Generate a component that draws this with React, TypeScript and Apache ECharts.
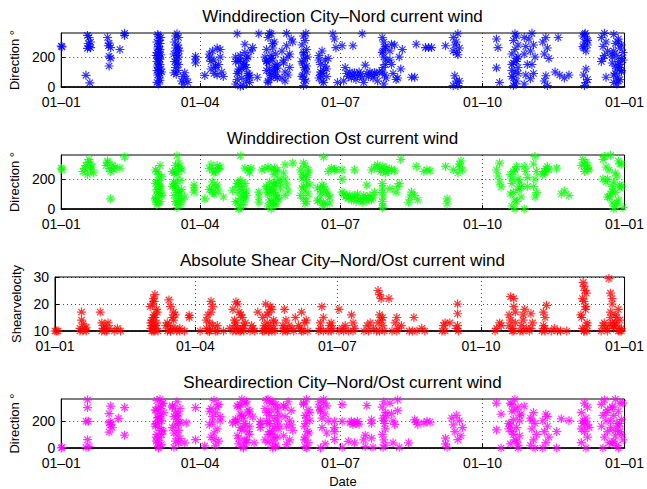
import React, { useEffect, useRef } from 'react';
import * as echarts from 'echarts';

const xTickDays = [0, 90, 181, 273, 365];
const xTickLabels = ['01–01', '01–04', '01–07', '01–10', '01–01'];
const dirTicks = [0, 200];
const shearTicks = [10, 20, 30];
const titles = [
  'Winddirection City–Nord current wind',
  'Winddirection Ost current wind',
  'Absolute Shear City–Nord/Ost current wind',
  'Sheardirection City–Nord/Ost current wind',
];
const yNames = ['Direction °', 'Direction °', 'Shearvelocity', 'Direction °'];
const colors = ['#0000ff', '#00ff00', '#ff0000', '#ff00ff'];

// [day of year, value]
const cityNordDir: number[][] = [
  [0,272],[0.5,268],
  [16,78],[18.5,28],[17,344],[18,330],[17.5,290],[18,270],[19,262],[17,258],[19,300],
  [30,330],[31,292],[30.5,275],[32,262],[31,205],[32,193],[31,140],
  [38,250],[41,358],[41,344],
  [63,20],[62,30],[64,45],[63.5,60],[62.5,80],[64,90],[63,100],[62,110],[64.5,120],[63,130],[62.5,140],[64,150],[63,160],[62,170],[64,185],[63.5,190],[62.5,200],[63,210],[64.5,215],[62,230],[63.5,240],[64,250],[62.5,260],[63,270],[64,290],[62,300],[63.5,310],[64.5,330],[63,340],[62.5,350],[65,100],[61.5,210],
  [75,355],[74,340],[76,330],[73.5,300],[75.5,280],[74,260],[76.5,240],[73,220],[75,210],[76,200],[74.5,185],[73.5,170],[75,160],[76,150],[74,130],[75.5,110],[73,95],[74.5,85],[76,260],[75,240],
  [78,40],[79,70],[80,95],[81,55],[79,20],[82,30],
  [87,160],[87,185],[87,205],[93,77],
  [98,240],[101,260],[96,220],[103,200],[99,180],[97,170],[102,150],[100,130],[97,120],[104,100],[99,90],[101,80],[103,250],[96,195],[100,140],[105,70],
  [114,90],[117,60],[113,20],[119,150],[115,120],[121,200],[118,10],[114,355],[116,180],[120,40],[122,60],[115,100],[118,140],[113,170],[120,190],[116,210],[123,240],[119,285],[117,120],[121,90],[114,50],[122,30],[116,5],[118,160],[113,200],[120,130],[122,80],[115,170],[119,230],[121,75],
  [124,263],[127,65],[128,355],
  [136,80],[133,110],[139,140],[134,160],[137,180],[132,200],[140,150],[135,120],[138,100],[136,190],[139,220],[133,250],[137,290],[134,330],[136,355],[135,358],[138,300],[140,60],[134,40],[139,70],[133,175],[136,210],[138,130],[135,90],[137,260],[140,125],[133,170],[136,60],[139,100],[134,30],
  [146,275],[143,240],[147,200],[144,160],[148,130],[145,100],[147,80],[143,60],[145,40],[146,358],[144,180],[148,220],
  [149,320],[150,300],
  [157,10],[158.5,40],[156,70],[159,100],[157.5,130],[156.5,160],[158,190],[157,220],[159,250],[156,280],[158,310],[157,340],[158.5,358],[156,170],[159.5,200],[157,230],[158,120],[156.5,80],[159,140],[157.5,50],
  [169,240],[167,210],[171,180],[168,150],[172,120],[169,90],[167,60],[170,30],[171,140],[168,100],[172,70],[169,40],[167,180],[170,110],[173,190],[168,80],
  [176,355],[177,320],[178,262],[179,30],
  [182,275],[189,275],[195,355],
  [183,40],[184,130],[185,90],[186,70],[187,100],[188,60],[189,80],[190,95],[191,50],[192,75],[193,100],[194,85],[195,60],[196,30],[197,146],[198,90],[199,70],[200,100],[201,80],[202,60],[203,95],[204,85],[205,40],[206,100],
  [209,20],[210.5,60],[208,100],[210,150],[209,200],[208.5,240],[210,270],[209,300],[208,330],[210.5,180],[208.5,130],[209.5,80],[208,230],[210,260],
  [216,280],[213,240],[219,200],[214,150],[220,120],[215,90],[218,60],[214,285],[221,250],[217,50],[213,180],
  [227,65],[229,65],[230,285],
  [236,263],[238,263],[240,263],[249,275],
  [257,215],[254,240],[258,260],[255,280],[256,300],[254,330],[257,355],[256,230],[255,75],[258,40],[254,10],[257,10],[256,40],
  [282,320],[283,263],[282,128],[284,30],
  [293,10],[295,40],[292,70],[294,100],[296,130],[293,160],[295,190],[292,220],[294,250],[296,280],[293,310],[295,340],[294,355],[292,150],[296,200],[293,60],[294,20],[295,170],[292,110],[296,90],
  [300,330],[301,270],[300,220],[302,150],[301,80],[300,20],
  [305,358],[303,320],[306,280],[304,240],[307,200],[305,150],[304,55],[306,90],
  [314,330],[312,300],[315,260],[313,220],[316,190],[314,75],[313,40],[315,10],
  [322,330],[320,100],[323,80],[326,60],[329,80],
  [339.5,358],[338,340],[340.5,320],[339,300],[341,280],[338.5,260],[340,240],[339,350],[341,310],[338,270],[340,120],[338.5,80],[341,50],[339,10],[340,30],
  [352,358],[350,330],[353,300],[351,270],[354,240],[352,210],[350,170],[353,65],[351,190],
  [360,20],[362,50],[358,80],[363,110],[359,140],[361,170],[357,200],[364,230],[362,260],[359,290],[361,320],[358,350],[363,100],[360,60],[362,130],[357,160],[364,180],[360,210],[358,240],[363,280],[361,40],[359,90],[362,150],[360,120],[358,30],[363,190],[357,220],[361,300],
];

const ostDir: number[][] = [
  [0,272],[0.5,262],
  [14,250],[15,270],[16,290],[17,310],[18,330],[19,260],[20,280],[21,240],[17,230],[19,300],
  [29,290],[30,310],[31,270],[32,250],[33,290],[34,260],[35,280],[30,320],[32,68],
  [38,272],[41,347],
  [63,230],[61,260],[64,290],[62,250],[65,215],[63,190],[61,170],[64,150],[62,130],[63,110],[65,90],[61,70],[64,50],[62,30],[63,160],[61.5,80],[64,140],[62,120],[63,40],[62,180],[65,100],[61,60],
  [75,230],[72,250],[77,270],[74,290],[78,260],[73,240],[76,280],[74,250],[75,355],[76,306],[77,190],[74,170],[72,150],[78,130],[75,110],[73,90],[76,70],[74,50],[77,30],[75,10],[73,160],[78,60],[74,140],[76,120],[77,100],[75,40],[73,180],
  [80,80],[86,113],[86,140],[86,160],[93,68],
  [99,240],[96,270],[101,290],[98,260],[103,280],[97,295],[100,250],[102,270],[98,180],[101,160],[97,140],[102,120],[99,100],[96,130],[100,150],[98,110],
  [105,80],[111,125],
  [116,190],[119,170],[114,150],[117,130],[115,110],[120,90],[116,70],[113,50],[118,30],[116,10],[115,0],[114,170],[117,150],[120,120],[118,80],[115,180],[116,355],[119,60],[114,40],[118,100],
  [119,272],[121,260],[122,240],[123,272],
  [128,113],[128,80],[128,45],
  [130,260],[132,270],[134,280],[136,265],[138,275],[139,255],
  [135,180],[138,160],[133,140],[136,120],[134,100],[139,80],[135,60],[137,40],[134,20],[136,0],[138,170],[133,150],[137,130],[134,110],[139,90],[136,50],[138,30],[135,140],
  [140,260],[138,230],[141,200],[139,170],[142,140],[138,110],[140,80],[141,60],[139,35],[142,180],
  [145,295],[144,240],[145,200],[146,160],[147,120],[145,90],[150,306],[157,306],
  [158,285],[155,260],[160,240],[157,220],[156,200],[159,180],[161,160],[156,140],[158,120],[160,100],[155,90],[157,70],[159,50],[158,35],[156,230],[160,260],[157,150],[159,210],
  [169,160],[166,140],[172,120],[168,100],[174,80],[167,60],[170,45],[171,30],[169,25],[173,90],[166,55],[168,130],[171,110],[174,40],[170,150],
  [170,347],[173,250],[175,272],[177,260],[178,265],
  [182,261],[182,197],[182,113],[190,261],
  [183,100],[184,80],[185,90],[186,70],[187,95],[188,60],[189,75],[190,85],[191,50],[192,100],[193,70],[194,60],[195,45],[196,90],[197,80],[198,55],[199,70],[200,90],[201,60],[202,75],[203,110],
  [198,159],
  [201,260],[203,280],[205,295],[206,270],[207,250],[208,285],[209,260],[210,240],[211,275],[212,250],[214,265],[216,255],
  [208,170],[208,140],[208,110],[208.5,80],[208,50],[208.5,20],[208,10],
  [213,136],[217,113],[218,150],[219,170],[220,330],
  [225,45],[226,80],[227,113],[229,90],[231,60],
  [230,284],[235,250],[237,261],[239,255],[249,284],[250,68],[250,35],[254,261],
  [257,240],[258,280],[259,320],[260,260],[258,300],
  [282,260],[283,220],[284,180],[285,147],[284,306],
  [294,260],[291,230],[296,200],[292,170],[297,140],[293,110],[298,80],[295,50],[292,20],[294,0],[296,130],[291,100],[297,180],[293,250],[295,283],[292,200],[298,150],[294,60],
  [300,0],[300,283],[301,250],[302,210],[302,150],
  [307,350],[306,300],[308,250],[307,200],[306,150],[308,110],[307,80],
  [312,230],[313,250],[314,270],[315,283],[316,260],[313,240],
  [321,272],[324,100],[326,120],[329,90],
  [339,250],[341,270],[337,290],[340,310],[338,330],[341,280],[339,300],[342,260],
  [356,358],[361,320],[353,280],[359,240],[351,200],[362,160],[357,120],[354,80],[360,40],[358,0],[352,350],[363,300],[355,260],[360,220],[358,180],[362,140],[356,100],[361,60],[359,20],[353,180],[357,150],[355,80],[362,300],[351,330],[363,150],[354,200],[357,40],[359,110],[364,10],
];

const shearAbs: number[][] = [
  [0,10],[1,10],[2,10],
  [16,11],[17,17],[18,12.6],[19,10.8],[20,11.4],[17,14],[18,10],[16,10],[20,10],
  [29,17],[30,13],[31,11],[32,12],[33,10],[34,13],[35,11],[30,10],[32,10],
  [38,10],[40,11],[42,10],
  [63,10],[64.5,12],[62,14],[63.5,16],[65,18],[62.5,20],[63,22],[64,23.5],[61.5,11],[65,13],[64,15],[61,19],[62,10],[65.5,17],[63.5,21],[62,12],[64.5,11],[61.5,13],[63,15],[66,10],[64,10],
  [74,10],[71,12],[76,14],[73,21.5],[77,16],[72,13],[75,11],[78,10],[74,19],[76,17],[73,12],[72,10],[75,15],[77,11],[74,10],
  [80,10],[80,11],[83,10],[86,15.8],[86,15],[93,10],
  [99,10],[101,12],[97,14],[100,21],[98,16],[100,17],[97,11],[99,13],[98,10],[101,19],[99,10],[103,10],
  [104,10],[104,12],[108,10],[112,11],
  [118,10],[121,12],[115,14],[119,16],[116,20.8],[122,13],[117,11],[114,18],[120,15],[118,17],[121,10],[115,12],[117,20],[120,11],[116,13],[114,10],[119,10],[116,10],
  [125,10],[126,12],[127,11],[130,17],[128,10],
  [137,10],[134,12],[140,14],[136,16],[139,18],[135,20],[138,19],[133,15],[141,13],[137,17],[135,11],[134,10],[139,10],[136,13],[140,11],[138,12],[133,10],[137,10],[141,10],
  [146,10],[147,18],[148,14],[146,12],[147,11],[148,10],
  [149,10],[150,12],[152,11],[154,15],[153,10],
  [159,10],[156,12],[161,14],[158,17],[157,11],[160,13],[162,10],[158,10],
  [169,10],[170,13],[171,19],[172,15],[170,11],[172,10],
  [175,10],[176,12],[177,13],[178,11],[177,10],
  [182,18],[182,10],[184,11],[186,12],[185,10],
  [190,16],[188,10],[191,13],[192,11],[191,10],
  [198,10],[200,12],[202,13],[204,11],[206,10],[201,10],
  [207,25],[208,23.5],[209,22],[208,16],[209,14],[210,12],[211,10],[207,13],[210,15],[208,10],
  [214,22],
  [216,10],[218,13],[219,15],[220,11],[222,12],[219,10],
  [227,10],[229,10],[230,15],[232,10],[235,11],[237,10],
  [248,10],[249,12],[250,13],[253,13],[250,10],
  [258,20],[258,16.4],[258,12],[258.5,10],[257,11],
  [282,10],[283,11],[285,13],[286,12],
  [293,10],[295,13],[291,16],[294,19],[292,22.7],[294,22],[291,12],[293,11],[292,14],[295,17],[294,10],
  [298,10],[299,12],[300,14],[301,18],[302,11],[300,16],[300,10],
  [305,16.4],[305,11],[306,13],[304,10],
  [312,10],[313,12],[314,15],[315,19.5],[313,17],[314,11],[314,10],
  [318,10],[320,11],[322,10],[324,10],[328,10],
  [339,10],[341,13],[337,16],[340,19],[338,22],[339.5,25],[338.5,28],[341,12],[337.5,15],[340,18],[339,21],[338,11],[340.5,24],[341,10],[339,26.5],[339,10],
  [350,10],[351,12],[352,13],[353,11],[354,10],[355,12],
  [355,29.4],[356,24],[357,20],[356,17],[357,13],[358,11],[356,15],[357,22],
  [361,10],[358,12],[362,14],[359,16],[361,18],[360,15],[363,11],[359,13],[362,10],[360,12],[363,10],
];

const shearDir: number[][] = [
  [0,0],[0.5,5],
  [17,353],[17,297],[16,196],[17.5,196],[17,61],[16,5],[18,10],
  [32,308],[31,252],[31,184],[32,170],[33,150],[31,117],[32,190],
  [37,218],[41,297],[41,94],
  [63,0],[65,25],[61.5,50],[64,75],[62,100],[66,125],[63.5,150],[61,175],[65,200],[62.5,225],[64.5,250],[61.5,275],[63,300],[65.5,325],[62,350],[64,358],[66,330],[61,280],[63.5,230],[62,180],[65,130],[61.5,80],[64,200],[66.5,260],[62.5,40],[65,100],[63,10],[61,160],[64.5,290],[62.5,220],
  [75,340],[72,310],[77,290],[74,270],[76,250],[73,230],[75,210],[77,190],[74,170],[72,150],[76,130],[73,110],[75,90],[77,70],[74,50],[76,38],[73,5],[75,240],[72,300],[76,180],
  [81,184],[80,38],[87,297],[87,61],[93,15],
  [99,350],[102,320],[97,290],[100,260],[98,230],[103,200],[96,170],[101,140],[99,110],[97,80],[102,50],[100,15],[98,190],[101,300],[96,270],[103,230],[99,61],
  [111,184],
  [118,0],[115,30],[120,60],[114,90],[121,120],[116,150],[119,180],[113,210],[117,240],[122,270],[115,300],[119,330],[117,358],[120,340],[114,310],[121,280],[116,250],[118,220],[113,190],[119,160],[117,130],[122,100],[115,70],[120,40],[118,10],[114,200],[121,250],[116,320],[119,60],[122,160],
  [124,229],[125,38],[129,150],[129,173],[129,196],
  [137,0],[134,40],[140,80],[135,120],[138,160],[133,200],[141,240],[136,280],[139,320],[134,358],[137,340],[140,300],[133,260],[138,220],[135,180],[141,140],[136,100],[132,60],[139,20],[134,180],[137,130],[140,200],[136,330],[133,350],[141,170],[138,80],[135,240],[139,10],[132,290],[137,50],[134,100],[140,270],
  [147,340],[144,310],[149,275],[145,230],[148,200],[146,160],[150,130],[144,90],[148,60],[146,27],[149,170],[145,300],
  [159,358],[157,320],[160,280],[158,240],[161,200],[157.5,160],[159.5,120],[158,80],[160,40],[159,0],[157,330],[161,260],[158.5,180],[160.5,110],[157.5,60],[159,220],[158,10],
  [170,358],[167,340],[172,310],[168,280],[171,250],[169,220],[173,200],[167,300],[170,330],[168,270],[172,110],[169,150],[171,30],[168,0],
  [177,196],[177,150],[177,61],[177,120],
  [182,319],[182,196],[182,5],[186,49],
  [187,185],[188,196],[189,173],[190,190],[191,180],[192,196],[193,175],[190,38],
  [197,94],[196,60],[197,10],[198,312],
  [201,207],[201,180],[201,72],[202,5],
  [209,340],[208,300],[210,260],[208.5,220],[209.5,180],[210,140],[208,100],[209,60],[210,20],[208.5,5],[209,200],[210.5,240],
  [213,330],[214,252],[215,200],[216,173],[215,38],[218,353],[218,274],[219,5],
  [225,38],[229,207],[230,190],[231,173],
  [235,184],[237,196],[239,190],
  [249,72],[249,30],[250,5],
  [256,240],[253,220],[258,200],[254,170],[260,150],[255,120],[259,90],[257,61],
  [282,330],[282,133],[285,249],[285,0],
  [294,358],[291,330],[296,300],[292,270],[297,240],[293,210],[290,180],[295,150],[292,120],[297,90],[294,60],[291,30],[296,0],[293,100],[290,140],[298,250],[292,320],[295,50],[297,200],[291,170],[294,280],[296,20],
  [300,307],
  [306,260],[304,220],[307,180],[305,140],[308,100],[306,60],[304,20],[307,0],[305,200],
  [314,250],[312,200],[315,160],[313,120],[316,80],[314,40],[312,0],[315,230],
  [321,0],[321,121],[324,214],[329,202],
  [339,330],[341,300],[337,260],[340,220],[338,180],[342,150],[339,120],[341,80],[337,40],[340,0],[338,200],[341,170],[339,190],[337,140],
  [352,353],[350,320],[354,280],[351,240],[353,200],[350,160],[354,120],[352,80],[355,40],[351,0],[353,260],
  [359,358],[362,330],[357,300],[361,270],[358,240],[363,210],[360,180],[356,150],[362,120],[359,90],[364,60],[357,30],[361,0],[363,100],[358,50],[360,20],[356,200],[362,180],[359,130],[357,300],[364,330],[361,160],
];

const seriesData = [cityNordDir, ostDir, shearAbs, shearDir];

const ASTERISK =
  'path://M-1.3,-10L1.3,-10L1.3,10L-1.3,10Z' +
  'M-10,-1.3L10,-1.3L10,1.3L-10,1.3Z' +
  'M-7.99,-6.15L-6.15,-7.99L7.99,6.15L6.15,7.99Z' +
  'M-7.99,6.15L6.15,-7.99L7.99,-6.15L-6.15,7.99Z';

const FONT = '"Liberation Sans", Arial, Helvetica, sans-serif';
const GRID_LEFT = 55;
const GRID_RIGHT = 17;
const GRID_TOP0 = 33;
const GRID_STEP = 122;
const GRID_H = 54;

export default function App() {
  const ref = useRef<HTMLDivElement>(null);
  useEffect(() => {
    if (!ref.current) return;
    const chart = echarts.init(ref.current, undefined, { renderer: 'svg' });
    const grids: any[] = [];
    const xAxes: any[] = [];
    const yAxes: any[] = [];
    const series: any[] = [];
    const graphics: any[] = [];
    for (let i = 0; i < 4; i++) {
      const top = GRID_TOP0 + GRID_STEP * i;
      grids.push({
        left: GRID_LEFT, right: GRID_RIGHT, top, height: GRID_H,
        show: true, borderColor: '#000', borderWidth: 1, containLabel: false,
      });
      xAxes.push({
        gridIndex: i, type: 'value', min: 0, max: 365,
        axisLine: { show: true, onZero: false, lineStyle: { color: '#000', width: 1.5 } },
        axisTick: { show: true, inside: true, length: 4, customValues: xTickDays, lineStyle: { color: '#000' } },
        axisLabel: {
          show: true, customValues: xTickDays, color: '#000', fontSize: 14, fontFamily: FONT, margin: 8,
          formatter: (v: number) => xTickLabels[xTickDays.indexOf(v)] ?? '',
        },
        splitLine: { show: true, lineStyle: { color: '#000', type: [1, 3], width: 1, opacity: 0.7 } },
        name: i === 3 ? 'Date' : '',
        nameLocation: 'middle', nameGap: 27,
        nameTextStyle: { color: '#000', fontSize: 13, fontFamily: FONT },
      });
      const isShear = i === 2;
      yAxes.push({
        gridIndex: i, type: 'value',
        min: isShear ? 10 : 0, max: isShear ? 30 : 360,
        axisLine: { show: true, lineStyle: { color: '#000', width: 1 } },
        axisTick: { show: true, inside: true, length: 4, customValues: isShear ? shearTicks : dirTicks, lineStyle: { color: '#000' } },
        axisLabel: { show: true, customValues: isShear ? shearTicks : dirTicks, color: '#000', fontSize: 14, fontFamily: FONT, margin: 6 },
        splitLine: { show: true, lineStyle: { color: '#000', type: [1, 3], width: 1, opacity: 0.7 } },
        name: yNames[i], nameLocation: 'middle', nameRotate: 90,
        nameGap: isShear ? 28 : 36,
        nameTextStyle: { color: '#000', fontSize: 13, fontFamily: FONT },
      });
      series.push({
        type: 'scatter', xAxisIndex: i, yAxisIndex: i,
        data: seriesData[i], symbol: ASTERISK, symbolSize: 9,
        itemStyle: { color: colors[i] },
        silent: true,
      });
      graphics.push({
        type: 'text', x: GRID_LEFT + (647 - GRID_LEFT - GRID_RIGHT) / 2, y: top - 17,
        style: { text: titles[i], fill: '#000', font: `17px ${FONT}`, textAlign: 'center', textVerticalAlign: 'middle' },
      });
    }
    chart.setOption({
      animation: false,
      backgroundColor: '#fff',
      grid: grids, xAxis: xAxes, yAxis: yAxes, series, graphic: graphics,
    });
    return () => chart.dispose();
  }, []);
  return (
    <div
      ref={ref}
      style={{ position: 'fixed', left: 0, top: 0, width: 647, height: 489, background: '#fff' }}
    />
  );
}
